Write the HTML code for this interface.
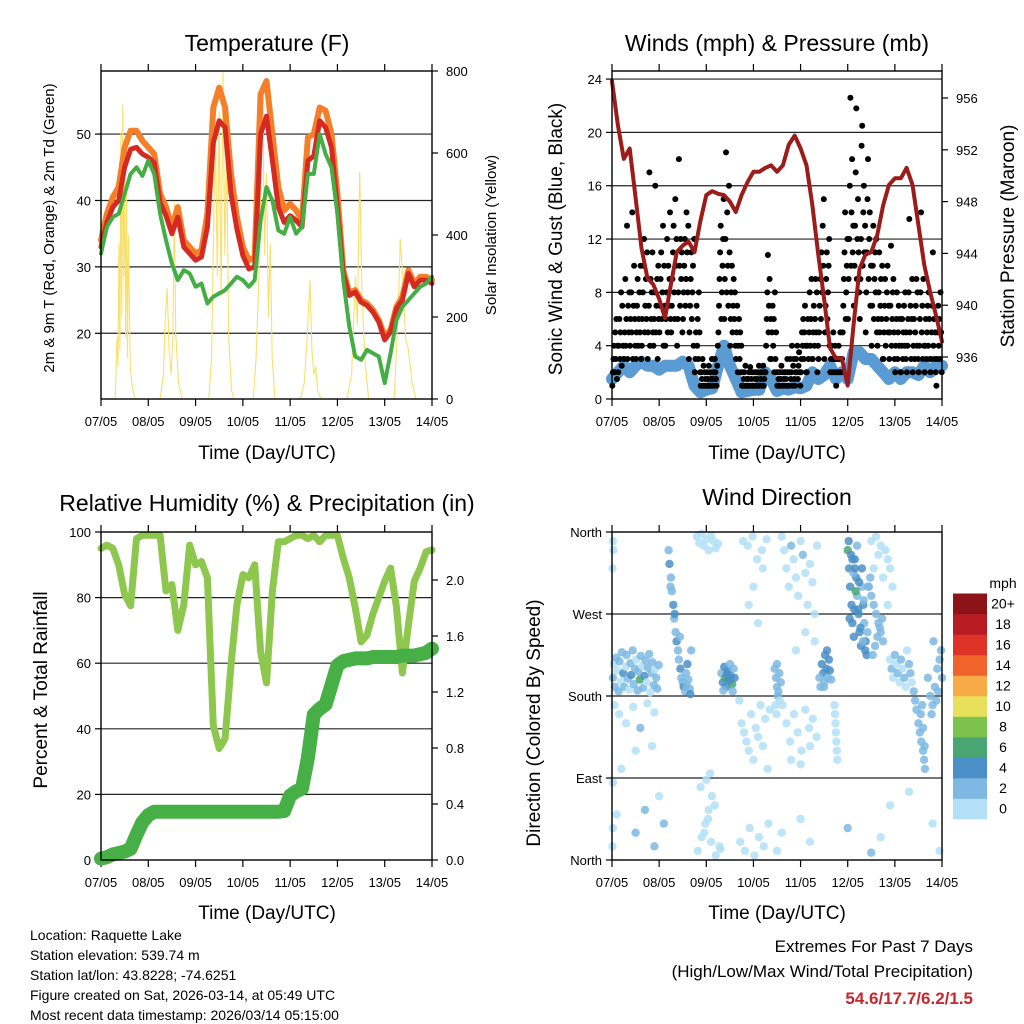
<!DOCTYPE html>
<html><head><meta charset="utf-8"><title>Raquette Lake station</title>
<style>
html,body{margin:0;padding:0;background:#fff;}
svg{display:block;font-family:"Liberation Sans",sans-serif;}
</style></head>
<body>
<svg id="fig" width="1024" height="1024" viewBox="0 0 1024 1024" xmlns="http://www.w3.org/2000/svg">
<rect x="0" y="0" width="1024" height="1024" fill="#fff"/>
<text x="267" y="51" font-size="23" text-anchor="middle">Temperature (F)</text>
<text x="777" y="51" font-size="23" text-anchor="middle">Winds (mph) &amp; Pressure (mb)</text>
<text x="267" y="511" font-size="23" text-anchor="middle">Relative Humidity (%) &amp; Precipitation (in)</text>
<text x="777" y="505" font-size="23" text-anchor="middle">Wind Direction</text>
<text transform="translate(54,228) rotate(-90)" font-size="15" text-anchor="middle">2m &amp; 9m T (Red, Orange) &amp; 2m Td (Green)</text>
<text transform="translate(496,235) rotate(-90)" font-size="15" text-anchor="middle">Solar Insolation (Yellow)</text>
<text transform="translate(562,239) rotate(-90)" font-size="19" text-anchor="middle">Sonic Wind &amp; Gust (Blue, Black)</text>
<text transform="translate(1014,236) rotate(-90)" font-size="19" text-anchor="middle">Station Pressure (Maroon)</text>
<text transform="translate(47,690) rotate(-90)" font-size="19" text-anchor="middle">Percent &amp; Total Rainfall</text>
<text transform="translate(540,723) rotate(-90)" font-size="19" text-anchor="middle">Direction (Colored By Speed)</text>
<text x="267" y="459" font-size="19" text-anchor="middle">Time (Day/UTC)</text>
<text x="777" y="459" font-size="19" text-anchor="middle">Time (Day/UTC)</text>
<text x="267" y="919" font-size="19" text-anchor="middle">Time (Day/UTC)</text>
<text x="777" y="919" font-size="19" text-anchor="middle">Time (Day/UTC)</text>
<text x="1003" y="588" font-size="14" text-anchor="middle">mph</text>
<g font-size="14">
<text x="30" y="940">Location: Raquette Lake</text>
<text x="30" y="960">Station elevation: 539.74 m</text>
<text x="30" y="980">Station lat/lon: 43.8228; -74.6251</text>
<text x="30" y="1000">Figure created on Sat, 2026-03-14, at 05:49 UTC</text>
<text x="30" y="1020">Most recent data timestamp: 2026/03/14 05:15:00</text>
</g>
<text x="973" y="952" font-size="17" text-anchor="end">Extremes For Past 7 Days</text>
<text x="973" y="977" font-size="17" text-anchor="end">(High/Low/Max Wind/Total Precipitation)</text>
<text x="973" y="1004" font-size="17" font-weight="bold" fill="#c8262c" text-anchor="end">54.6/17.7/6.2/1.5</text>
</svg>
<script>
// ---------- data (3-hourly, day 0 = 07/05) ----------
const dayLabels = ["07/05","08/05","09/05","10/05","11/05","12/05","13/05","14/05"];
const temp9m = [34,38,40.5,42,48,50.5,50.5,49,48,47,41,39,36,39,34,33,32,32.5,38,54,57,54,44,37.5,33,31,31.5,56,58,50,42,38.5,39.5,38.5,37,49.5,50,54,53.5,50,41,29.5,26,26.5,25,24.5,23.5,22,19.5,20.5,24,25.5,29.5,27.5,28.5,28.5,28];
const temp2m = [33,36.7,39,40,45,47.7,48,47,46.5,45.7,39.7,37.7,35,37.5,33,32,31,31.5,36,48.7,52,51,41,35.7,31.7,29.7,30,50,52.7,46,39,36.7,37.7,37,36,46,46.7,52,51,48,39,29,25.7,26.2,24.7,24.2,23.2,21.7,19,20.2,23.7,25,29,27,28,28,27.5];
const dewpt = [32,36,37.5,38,41,44,45,43.7,46,44,38,34,30.5,28,29.5,29,27,27.5,24.5,25.5,26,26.5,27.5,28.5,28,27,28,37,42,40,35.5,35,37.5,35,36,44,44,50,47,45,38,28,21,16.5,16,17.5,17,16.5,12.5,17,22,24,25,26,27,27.5,28.5];
const solarDays = [0,0.30,0.34,0.36,0.38,0.40,0.42,0.44,0.46,0.48,0.50,0.52,0.54,0.56,0.58,0.62,0.66,0.72,1.25,1.32,1.36,1.40,1.44,1.48,1.52,1.55,1.58,1.64,1.72,2.28,2.34,2.38,2.42,2.46,2.50,2.54,2.58,2.62,2.66,2.70,2.76,2.82,3.22,3.28,3.34,3.38,3.42,3.46,3.50,3.54,3.58,3.62,3.68,4.22,4.30,4.36,4.42,4.46,4.50,4.54,4.58,4.66,5.20,5.30,5.38,5.42,5.47,5.52,5.58,5.66,6.20,6.28,6.33,6.38,6.44,6.50,6.58,6.66,7];
const solarVals = [0,0,150,80,380,120,650,200,717,300,600,150,500,100,400,80,30,0,0,60,200,270,120,60,150,480,160,40,0,0,100,400,650,300,700,250,800,350,600,150,20,0,0,100,300,520,765,350,550,200,380,100,0,0,40,150,290,120,60,80,20,0,0,60,300,180,555,250,100,0,0,200,390,300,150,120,40,0,0];
const windMean = [1.5,2,2.5,2,2.5,2.8,2.5,2.5,2.2,2.5,2.5,2.5,2.8,2.5,1.0,0.5,0.7,0.8,2.5,4.0,2.5,1.5,0.5,0.6,0.7,0.7,2.0,1.5,0.6,0.8,0.7,0.9,0.8,1.0,2.0,1.5,1.8,2.5,1.5,2.0,1.5,3.5,3.5,3.0,3.0,2.5,2.0,1.5,2.0,1.5,2.0,2.0,1.8,2.5,2.0,2.5,2.5];
const gustBins = [
[1,2,3,4,2,5,3,6,1.5,4],[2,4,6,3,5,8,2.5,7,4,3],[3,5,9,4,6,13,3,7,5,8],[4,6,8,5,14,3,7,10,6,4],
[3,5,7,9,4,6,8,5,10,3],[4,6,8,10,12,5,7,9,6,11],[3,5,7,17,4,9,6,8,11,5],[4,6,8,16,5,7,9,3,10,6],
[5,7,9,11,6,8,13,4,10,7],[4,6,8,12,5,10,7,9,14,6],[5,7,9,11,13,8,6,15,10,12],[4,6,8,18,10,7,12,9,11,5],
[6,8,10,12,7,9,14,11,8,13],[3,5,7,9,11,6,8,10,4,12],[2,3,5,7,4,6,3,8,5,2],[1,2,1.5,3,1,2.5,1,2,1.5,1],
[1,2,1.5,1,2.5,1,2,1,1.5,3],[1,1.5,2,1,3,2,1.5,1,2.5,4],[5,7,9,11,13,6,8,10,12,15],[6,9,12,18.5,8,14,10,7,16,11],
[4,6,8,10,5,7,9,6,8,4],[3,5,7,2,4,6,3,5,2,4],[1,2,1,1.5,2,1,2.5,1,1.5,1],[1,1.5,2,1,2.4,1,1.5,2,1,1],
[1,2,1.5,1,2,1,1.5,2,1,2.5],[1,2,1.5,1,2,1,2.5,1,1.5,2],[2,4,6,8,10.8,5,7,9,3,6],[3,5,7,4,6,2,8,3,5,2],
[1,2,1.5,1,2,1,1.5,2.5,1,2],[1,1.5,2,1,2,1.5,1,3,2,1],[1,2,3,1.5,2,4,1,2.5,3,1.5],[1,2,3,2,4,1.5,2.5,3.5,2,1],
[2,3,5,4,6,3,5,7,4,2],[2,4,6,3,5,8,4,6,9,3],[3,5,7,4,6,9,5,8,2,4],[3,5,7,9,6,11,8,13,10,15],
[3,5,7,9,11,6,8,10,12,4],[2,3,4,2,3,5,3,2,4,3],[1,2,3,2,4,3,2,5,3,2],[3,5,7,9,11,14,6,8,10,12],
[6,9,12,16,22.6,10,14,18,11,13],[7,10,13,17,21.8,9,12,15,11,8],[6,9,12,19,20.5,10,14,16,11,13],[5,8,11,15,18,9,12,14,7,10],
[4,7,10,13,6,9,11,8,12,5],[4,6,8,11,5,7,9,6,10,3],[3,5,7,9,4,6,8,10,5,7],[3,5,7,11.5,4,6,8,9,5,3],
[2,4,6,8,3,5,7,4,6,2],[2,4,6,3,5,7,4,8,3,5],[2,4,6,8,13.5,5,7,3,6,9],[2,4,6,3,5,7,9,4,8,3],
[2,4,6,8,14,5,7,3,9,4],[2,4,6,3,5,7,4,8,6,3],[2,3,5,7,11,4,6,3,5,2],[1,3,5,7,4,6,3,8,5,2]];
const pressure = [957.3,953.9,951.3,952.1,948.3,944.4,942.1,941.6,940.5,939,941.6,944.1,944.6,944.9,944.1,946.5,948.5,948.8,948.6,948.5,948,947.2,948.5,949.5,950.3,950.3,950.6,950.8,950.3,950.8,952.4,953.1,952.1,950.8,947.7,943.9,940.5,936.7,935.9,935.9,933.8,938.5,942.8,943.9,944.1,945.4,947.7,949.3,949.8,949.8,950.6,949.3,946.2,943.1,941,939.2,937.2];
const relHum = [95,96,95,90,81,77.5,98,99,99,99,99,82,84,70,77.8,96,90,91,86,41,34,37,59.5,77.8,87,86,90,63.5,54,82,97,97,98,99,99,98,99,97,99,99,99,92,86,77,66.5,68.6,75,80,85,89,77,57,71.6,85,89,94,94.5];
const precip = [0.01,0.02,0.04,0.05,0.06,0.08,0.18,0.27,0.32,0.345,0.345,0.345,0.345,0.345,0.345,0.345,0.345,0.345,0.345,0.345,0.345,0.345,0.345,0.345,0.345,0.345,0.345,0.345,0.345,0.345,0.345,0.35,0.46,0.49,0.51,0.73,1.04,1.08,1.11,1.25,1.39,1.42,1.43,1.44,1.44,1.44,1.45,1.45,1.45,1.45,1.45,1.46,1.46,1.46,1.47,1.48,1.51];
const dirDays = [0.02,0.04,0.06,0.09,0.11,0.14,0.16,0.19,0.21,0.24,0.26,0.29,0.31,0.34,0.36,0.39,0.41,0.44,0.46,0.49,0.51,0.54,0.56,0.59,0.61,0.64,0.66,0.69,0.71,0.74,0.76,0.79,0.81,0.84,0.86,0.89,0.91,0.94,0.96,0.99,
0.05,0.15,0.3,0.45,0.6,0.75,0.9,0.02,0.03,0.01,0.2,0.5,0.85,0.01,0.02,
1.2,1.22,1.25,1.27,1.3,1.32,1.35,1.37,1.4,1.42,1.45,1.47,1.5,1.52,1.55,1.57,1.6,1.62,1.65,1.68,1.24,1.33,1.44,1.58,1.66,
1.8,1.85,1.9,1.95,2.0,2.05,2.1,2.15,2.2,2.25,1.82,1.9,1.98,2.05,2.12,2.2,2.28,1.88,1.96,2.04,2.1,2.18,2.3,2.0,2.08,
2.32,2.35,2.38,2.4,2.42,2.45,2.48,2.5,2.52,2.55,2.58,2.6,2.44,2.5,2.36,2.56,
2.7,2.75,2.8,2.85,2.9,2.95,3.0,3.05,3.1,3.15,3.2,3.25,3.3,3.35,2.78,2.88,2.98,3.08,3.18,3.28,2.72,2.82,2.92,3.02,3.12,3.22,3.32,2.9,3.0,3.1,3.2,
3.45,3.48,3.5,3.52,3.55,3.58,3.47,3.53,3.5,3.56,3.49,
3.6,3.65,3.7,3.75,3.8,3.85,3.9,3.95,4.0,4.05,4.1,4.15,4.2,4.25,4.3,4.35,3.62,3.7,3.78,3.86,3.94,4.02,4.1,4.18,4.26,4.34,3.8,4.0,4.2,3.9,4.1,4.3,
4.45,4.48,4.5,4.52,4.55,4.58,4.6,4.62,4.65,4.5,4.56,4.42,4.4,4.72,4.74,4.76,4.78,4.73,4.75,4.77,
5.0,5.03,5.05,5.08,5.1,5.13,5.15,5.18,5.2,5.23,5.25,5.28,5.3,5.33,5.35,5.38,5.4,5.43,5.02,5.07,5.12,5.17,5.22,5.27,5.32,5.37,5.42,5.1,5.2,5.3,5.04,5.14,5.24,5.34,5.15,
5.45,5.5,5.55,5.6,5.65,5.7,5.75,5.48,5.53,5.58,5.63,5.68,5.73,5.5,5.6,5.7,5.8,5.85,5.9,5.95,5.55,5.65,5.75,5.85,
5.9,5.93,5.96,6.0,6.03,6.06,6.1,6.13,6.16,6.2,6.23,6.26,6.3,6.33,6.36,6.4,6.43,6.46,6.5,6.53,6.56,6.6,6.62,6.64,6.58,6.55,6.6,6.63,
6.7,6.75,6.8,6.85,6.9,6.95,7.0,6.78,6.88,6.98,6.82,6.92,
0.02,0.1,0.5,0.7,0.9,1.0,1.1,3.5,3.6,4.0,4.2,5.0,5.5,5.7,5.9,6.3,6.8,6.95];
const dirDegs = [200,215,190,222,208,185,218,196,228,205,190,212,225,199,187,216,203,230,193,210,220,186,207,198,224,213,189,202,219,195,211,226,184,205,217,192,209,200,188,214,
170,160,150,168,145,172,162,350,340,320,100,120,125,15,35,
340,325,310,295,280,265,250,240,230,220,210,200,195,190,185,205,215,198,188,230,300,270,245,192,182,
355,348,358,345,352,340,356,350,342,347,10,25,40,55,70,5,15,80,30,45,20,60,12,88,95,
205,195,212,200,190,208,198,215,202,193,210,200,204,197,186,185,
175,150,140,130,120,160,110,145,135,170,125,155,100,165,350,345,355,330,340,352,20,10,35,5,25,15,40,280,300,260,320,
210,200,190,180,205,195,170,185,215,175,160,
355,340,320,300,345,330,310,290,350,335,315,280,325,305,270,345,170,150,130,160,140,120,165,145,155,135,110,105,125,230,250,240,
215,205,195,225,210,200,220,208,198,190,230,190,200,170,150,130,110,160,140,120,
340,320,300,280,260,245,330,310,290,270,250,235,300,280,260,240,225,300,350,335,315,295,275,255,240,230,250,330,345,320,265,275,305,285,320,
300,290,280,270,260,250,240,310,225,235,245,255,265,350,355,345,340,330,320,300,320,335,310,280,
220,210,200,225,215,205,195,220,210,200,190,230,215,205,195,185,175,165,150,140,130,120,110,100,170,160,145,125,
200,180,170,190,210,220,200,160,175,230,240,185,
85,50,30,55,15,70,40,10,30,45,20,35,8,25,60,75,40,10];
const dirSpeeds = [2.5,1.5,3,2.8,1,3.5,2.2,1.8,3,4.2,2.6,1.2,3.2,2.4,1.6,2.9,4.5,2.1,3.3,2.7,1.4,3.6,2.3,6.5,2.8,1.9,3.1,4.1,2.5,1.7,3.4,2.6,1.3,2.9,3.8,2.2,1.5,3,2.4,3.3,
1,1.5,0.8,1.2,2,1.8,1,0.8,1,1.2,1,1.5,1,0.9,1,
2.5,4.2,3,2.2,4.5,3.5,2.8,4.1,3.2,2.4,4.4,3.6,2.6,4.3,3,2.5,4.8,3.1,2.7,3.5,2.2,4,3.3,2.9,4.2,
1,0.8,1.2,1.5,0.9,1.1,1.3,0.7,1,1.4,0.8,1,1.2,0.9,1.1,1.3,0.7,1,0.8,1.2,1,0.9,1.1,1.5,1,
3.5,4.5,4.2,6.5,4.8,5,4.1,3.8,4.6,6.2,3.9,4.3,5.5,4.4,3,2.5,
1,1.2,0.8,1.5,1,1.3,0.9,1.1,1.4,0.8,1,1.2,0.9,1.5,1,0.8,1.2,1,1.1,0.9,1,1.3,0.8,1.2,1,0.9,1.1,1.2,1,1.4,1,
2.5,3,2.2,2.8,3.2,2.4,1.5,2.6,2,1.8,1.2,
1,1.5,1.2,0.8,2.2,1,1.4,1.1,1.3,2.5,1,1.2,0.9,1.5,1,1.1,1,1.2,0.9,1.3,1,1.1,1.5,0.8,1.2,1,0.9,1.2,1.1,1,1.3,1,
4.2,4.5,3.8,4.6,4.1,3.5,4.4,4,3.6,2.5,4.3,2.2,3,1.2,1,1.4,0.9,1.1,1.3,1,
6.5,4.5,4,4.3,4.8,4.1,4.6,4.2,3.9,4.5,4.4,4,3.8,4.2,3.6,4.3,4.1,3.5,4.2,4.6,3.8,6.4,4.4,4.1,3.7,4,3.6,4.5,3.9,4.2,4.7,4.3,4,3.8,4.4,
3,2.8,3.2,2.6,3.4,2.5,2.2,2.4,3.1,2.7,3.3,2.9,2.3,1,1.2,1.5,1,1.3,0.9,1.1,1.8,1.4,1.6,1,
1.5,2,1.8,2.2,1.3,2.5,1.6,2.1,1.9,2.4,1.4,1.7,2.3,2,1.6,2.5,2.8,2.2,2.6,2.4,2.9,2.7,2.5,2.3,2,2.6,2.8,2.1,
2.2,2.5,2.8,2,2.4,2.6,2.3,2.1,2.7,2.5,2,2.9,
1,1.5,2.2,2.5,3,1,2.4,1,1.2,1.1,1,2.5,3,1.2,1,1.5,1,1.3];
const speedColors = ["#b3e0f6","#7db8e2","#4a8fc6","#49a672","#7dc24d","#e8e05b","#f6ab46","#f0632b","#dd3427","#b81c23","#8c1419"];
const speedLabels = ["0","2","4","6","8","10","12","14","16","18","20+"];

// ---------- helpers ----------
const NS = "http://www.w3.org/2000/svg";
const svg = document.getElementById("fig");
function mk(tag, attrs, parent){const e=document.createElementNS(NS,tag);for(const k in attrs)e.setAttribute(k,attrs[k]);(parent||svg).appendChild(e);return e;}
const STEP = 0.125;
const P = {
 T:{x0:101,x1:432,y0:71,y1:399},
 W:{x0:612,x1:942,y0:71,y1:399},
 H:{x0:101,x1:432,y0:532,y1:860},
 D:{x0:612,x1:942,y0:532,y1:860}};
function xs(p,d){return p.x0+d/7*(p.x1-p.x0);}
const yTemp = v => 399-(v-10.1)/49.4*328;
const ySolar = v => 399-v/800*328;
const yWind = v => 399-v*13.33;
const yPres = v => 98+(956-v)*12.95;
const yRH = v => 860-v*3.28;
const yPrecip = v => 860-v*140;
const yDir = v => 860-v/360*328;

function pathFrom(p, vals, yf){
  return vals.map((v,i)=>(i?"L":"M")+xs(p,i*STEP).toFixed(1)+","+yf(v).toFixed(1)).join("");
}
function frameAndTicks(key, p, leftTicks, leftFn, leftLabels, gridVals, rightTicks, rightFn, rightLabels){
  const g = mk("g",{});
  
  
  gridVals.forEach(v=>{
    const l = mk("line",{x1:p.x0,x2:p.x1,y1:leftFn(v),y2:leftFn(v),stroke:"#222","stroke-width":1.2},g);
    
    
  });
  leftTicks.forEach((v,i)=>{
    const y = leftFn(v);
    const t = mk("line",{x1:p.x0-6,x2:p.x0,y1:y,y2:y,stroke:"#000","stroke-width":1.2},g);
    
    
    const tx = mk("text",{x:p.x0-10,y:y+5,"font-size":13,"text-anchor":"end"},g);
    tx.textContent = leftLabels[i];
    
    
  });
  if(rightTicks){
    rightTicks.forEach((v,i)=>{
      const y = rightFn(v);
      const t = mk("line",{x1:p.x1,x2:p.x1+6,y1:y,y2:y,stroke:"#000","stroke-width":1.2},g);
      
      
      const tx = mk("text",{x:p.x1+14,y:y+5,"font-size":13},g);
      tx.textContent = rightLabels[i];
      
      
    });
  }
  dayLabels.forEach((lab,i)=>{
    const x = xs(p,i);
    const tb = mk("line",{x1:x,x2:x,y1:p.y1,y2:p.y1+7,stroke:"#000","stroke-width":1.2},g);
    
    
    const tt = mk("line",{x1:x,x2:x,y1:p.y0-7,y2:p.y0,stroke:"#000","stroke-width":1.2},g);
    
    
    const tx = mk("text",{x:x,y:p.y1+27,"font-size":13,"text-anchor":"middle"},g);
    tx.textContent = lab;
    
    
  });
}
function frame(key,p){
  const r = mk("rect",{x:p.x0,y:p.y0,width:p.x1-p.x0,height:p.y1-p.y0,fill:"none",stroke:"#000","stroke-width":1.4});
  
  
}

// ---------- Temperature panel ----------
frameAndTicks("temperature",P.T,[20,30,40,50],yTemp,["20","30","40","50"],[20,30,40,50],[0,200,400,600,800],ySolar,["0","200","400","600","800"]);
let solarD = solarDays.map((d,i)=>(i?"L":"M")+xs(P.T,d).toFixed(1)+","+ySolar(solarVals[i]).toFixed(1)).join("");
const solarLine = mk("path",{d:solarD,fill:"none",stroke:"#f8e06a","stroke-width":1.1});


const orangeLine = mk("path",{d:pathFrom(P.T,temp9m,yTemp),fill:"none",stroke:"#f47f2a","stroke-width":6,"stroke-linejoin":"round","stroke-linecap":"round"});


const redLine = mk("path",{d:pathFrom(P.T,temp2m,yTemp),fill:"none",stroke:"#d42a22","stroke-width":5,"stroke-linejoin":"round","stroke-linecap":"round"});


const greenLine = mk("path",{d:pathFrom(P.T,dewpt,yTemp),fill:"none",stroke:"#44ad44","stroke-width":4,"stroke-linejoin":"round","stroke-linecap":"round","stroke-dasharray":"4 1"});


frame("temperature",P.T);

// ---------- Winds panel ----------
frameAndTicks("winds",P.W,[0,4,8,12,16,20,24],yWind,["0","4","8","12","16","20","24"],[4,8,12,16,20,24],[936,940,944,948,952,956],yPres,["936","940","944","948","952","956"]);
const blueLine = mk("path",{d:pathFrom(P.W,windMean,yWind),fill:"none",stroke:"#5b9bd3","stroke-width":12,"stroke-linejoin":"round","stroke-linecap":"round"});


const gustG = mk("g",{fill:"#000"});


gustBins.forEach((bin,i)=>{
  bin.forEach((v,j)=>{
    const d = i*STEP + (j+0.5)/bin.length*STEP;
    const c = mk("circle",{cx:xs(P.W,d).toFixed(1),cy:yWind(v).toFixed(1),r:3},gustG);
    
    
  });
});
const presLine = mk("path",{d:pathFrom(P.W,pressure,yPres),fill:"none",stroke:"#9c1b1b","stroke-width":4,"stroke-linejoin":"round","stroke-linecap":"round"});


frame("winds",P.W);

// ---------- Humidity panel ----------
frameAndTicks("humidity",P.H,[0,20,40,60,80,100],yRH,["0","20","40","60","80","100"],[20,40,60,80],[0,0.4,0.8,1.2,1.6,2.0],yPrecip,["0.0","0.4","0.8","1.2","1.6","2.0"]);
const rhLine = mk("path",{d:pathFrom(P.H,relHum,yRH),fill:"none",stroke:"#8dc74e","stroke-width":7,"stroke-linejoin":"round","stroke-linecap":"round"});


const prLine = mk("path",{d:pathFrom(P.H,precip,yPrecip),fill:"none",stroke:"#46b046","stroke-width":14,"stroke-linejoin":"round","stroke-linecap":"round"});


frame("humidity",P.H);

// ---------- Direction panel ----------
frameAndTicks("direction",P.D,[0,90,180,270,360],yDir,["North","East","South","West","North"],[90,180,270],null,null,null);
const dirG = mk("g",{"fill-opacity":0.85});


dirDays.forEach((d,i)=>{
  const ci = Math.min(10, Math.floor(dirSpeeds[i]/2));
  const c = mk("circle",{cx:xs(P.D,d).toFixed(1),cy:yDir(dirDegs[i]).toFixed(1),r:4.2,fill:speedColors[ci]},dirG);
  
  
});
frame("direction",P.D);

// colorbar
const cbG = mk("g",{});


speedColors.forEach((col,i)=>{
  const y = 819 - (i+1)*20.5;
  const r = mk("rect",{x:953,y:y.toFixed(1),width:34,height:20.8,fill:col},cbG);
  
  
  const t = mk("text",{x:1003,y:(y+15).toFixed(1),"font-size":14,"text-anchor":"middle"},cbG);
  t.textContent = speedLabels[i];
  
  
});
</script>
</body></html>
